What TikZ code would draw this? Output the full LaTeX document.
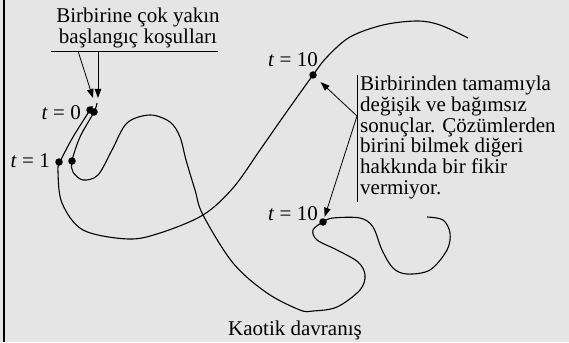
\documentclass[tikz,border=0pt]{standalone}
\usepackage{fontspec}
\setmainfont{Liberation Serif}
\usetikzlibrary{arrows.meta}
\begin{document}
\begin{tikzpicture}[x=1pt,y=-1pt,
  orbit/.style={line width=1.1pt,smooth,tension=0.55},
  dot/.style={circle,fill,inner sep=0pt,minimum size=7.5pt},
  pointer/.style={line width=0.8pt,-{Triangle[length=9pt,width=6.5pt]}},
  lbl/.style={font=\fontsize{21}{20.7}\selectfont,inner sep=0pt}]
  % background and left edge
  \fill[black!10] (0,0) rectangle (569,342);
  \useasboundingbox (0,0) rectangle (569,342);
  \draw[line width=2pt] (4,0) -- (4,342);
  % first trajectory
  \draw[orbit] plot coordinates {(92,106) (90,110) (73,137) (60,162) (58,172)
    (62,203) (83,230) (128,239) (160,233) (203,215) (233,188) (260,150)
    (283,117) (313,75) (327,57) (350,37) (383,25) (417,21) (440,25) (468,38)};
  % second trajectory
  \draw[orbit] plot coordinates {(97,103) (94,112) (80,137) (72,161) (73,172)
    (83,180) (98,175) (112,150) (127,123) (150,115) (170,122) (180,137)
    (186,160) (195,190) (203,215) (233,263) (267,293) (300,310) (313,311)
    (337,307) (360,290) (365,275) (358,262) (337,250) (317,240) (313,230)
    (323,222) (333,218) (360,218) (373,227) (382,250) (393,268) (407,274)
    (430,270) (447,250) (450,233) (443,220) (427,217)};
  % marked states
  \node[dot] (d0a) at (90,110) {};
  \node[dot] (d0b) at (94,112) {};
  \node[dot] (d1a) at (59,162) {};
  \node[dot] (d1b) at (72,161) {};
  \node[dot] (d10a) at (313,75) {};
  \node[dot] (d10b) at (323,222) {};
  \node[lbl,anchor=base east] (t0) at (81,119) {\textit{t} = 0};
  \node[lbl,anchor=base east] (t1) at (50,167) {\textit{t} = 1};
  \node[lbl,anchor=base east] (t10a) at (318,67) {\textit{t} = 10};
  \node[lbl,anchor=base east] (t10b) at (318,220) {\textit{t} = 10};
  % initial conditions label
  \node[lbl,align=center,anchor=north] (init) at (138,8)
    {Birbirine çok yakın\\başlangıç koşulları};
  \coordinate (ruleL) at (51,51);
  \coordinate (ruleR) at (218,51);
  \draw[line width=0.8pt] (ruleL) -- (ruleR);
  \coordinate (srcA) at (78,51);
  \coordinate (srcB) at (98,51);
  \coordinate (tipA) at (93,98);
  \coordinate (tipB) at (98,98);
  \draw[pointer] (srcA) -- (tipA);
  \draw[pointer] (srcB) -- (tipB);
  % outcome label
  \coordinate (barT) at (357,75);
  \coordinate (barB) at (357,202);
  \draw[line width=0.8pt] (barT) -- (barB);
  \node[lbl,align=left,anchor=north west] (res) at (360,76)
    {Birbirinden tamamıyla\\değişik ve bağımsız\\sonuçlar. Çözümlerden\\birini bilmek diğeri\\hakkında bir fikir\\vermiyor.};
  \coordinate (src) at (357,116);
  \draw[pointer,shorten >=6.5pt] (src) -- (d10a);
  \draw[pointer,shorten >=1.5pt] (src) -- (d10b);
  % caption
  \node[lbl,anchor=base] (cap) at (295,335) {Kaotik davranış};
\end{tikzpicture}
\end{document}
